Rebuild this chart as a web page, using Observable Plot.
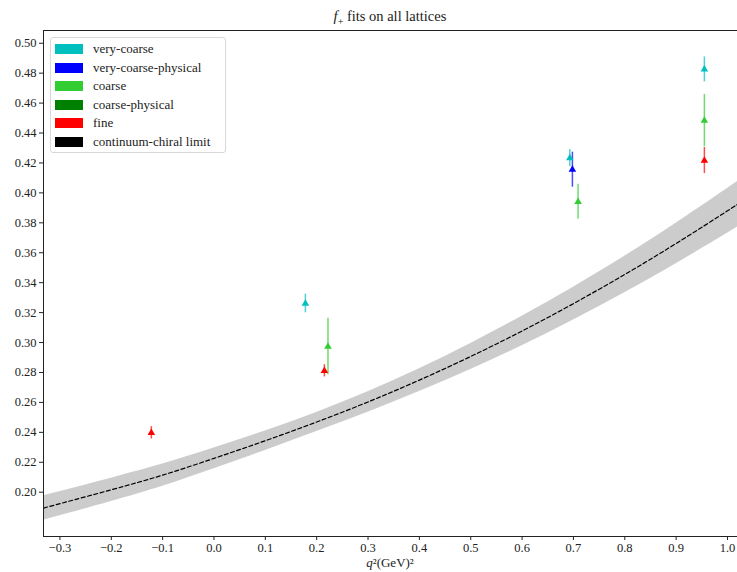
<!DOCTYPE html>
<html>
<head>
<meta charset="utf-8">
<script src="https://cdn.jsdelivr.net/npm/d3@7"></script>
<script src="https://cdn.jsdelivr.net/npm/@observablehq/plot@0.6"></script>
<style>
  html, body { margin: 0; padding: 0; background: #fff; }
  #wrap { position: relative; width: 737px; height: 572px; font-family: "Liberation Serif", "Times New Roman", Times, serif; }
  #title { position: absolute; left: 43px; width: 694px; top: 8px; text-align: center; font-size: 14.5px; color: #222; }
  #xlabel { position: absolute; left: 43px; width: 694px; top: 555px; text-align: center; font-size: 13px; color: #222; }
  #legend { position: absolute; left: 50px; top: 37px; width: 176px; height: 116px; border: 1px solid #d8d8d8; border-radius: 3px; background: rgba(255,255,255,0.85); box-sizing: border-box; }
  .row { position: absolute; left: 4px; height: 18px; display: flex; align-items: center; font-size: 13px; color: #222; }
  .sw { width: 28px; height: 10px; margin-right: 10px; }
  #chart { position: absolute; left: 0; top: 0; }
  #chart svg text { font-family: "Liberation Serif", "Times New Roman", Times, serif; }
</style>
</head>
<body>
<div id="wrap">
  <div id="chart"></div>
  <div id="title"><i>f</i><sub style="font-size:10px">+</sub> fits on all lattices</div>
  <div id="xlabel"><i>q</i>²(GeV)²</div>
  <div id="legend"></div>
</div>
<script>
// Series (legend order) and colours
const seriesNames = ["very-coarse", "very-coarse-physical", "coarse", "coarse-physical", "fine", "continuum-chiral limit"];
const seriesColors = ["#00bfbf", "#0000ff", "#32cd32", "#008000", "#ff0000", "#000000"];

// Lattice data points
const ptSeries = ["very-coarse", "very-coarse", "very-coarse", "very-coarse-physical", "coarse", "coarse", "coarse", "fine", "fine", "fine"];
const ptQ2 =     [0.178, 0.693, 0.955, 0.698, 0.222, 0.709, 0.955, -0.122, 0.215, 0.955];
const ptF =      [0.3261, 0.4232, 0.4825, 0.4155, 0.2973, 0.3940, 0.4483, 0.2397, 0.2811, 0.4216];
const ptErr =    [0.0062, 0.0057, 0.0083, 0.0117, 0.0189, 0.0117, 0.0175, 0.0041, 0.0041, 0.0087];

// Continuum-chiral limit curve
const curveQ2 =  [-0.332, -0.2, -0.1, 0.0, 0.1, 0.2, 0.3, 0.4, 0.5, 0.6, 0.7, 0.8, 0.9, 1.0, 1.02];
const curveF =   [0.1894, 0.2016, 0.2114, 0.2226, 0.2344, 0.2469, 0.2603, 0.2749, 0.2907, 0.3077, 0.3260, 0.3455, 0.3662, 0.3880, 0.3925];
const curveErr = [0.0082, 0.0078, 0.0074, 0.0069, 0.0065, 0.0064, 0.0068, 0.0076, 0.0087, 0.0099, 0.0110, 0.0122, 0.0135, 0.0149, 0.0152];

// Tick values
const xTicks = [-0.3, -0.2, -0.1, 0.0, 0.1, 0.2, 0.3, 0.4, 0.5, 0.6, 0.7, 0.8, 0.9, 1.0];
const yTicks = [0.20, 0.22, 0.24, 0.26, 0.28, 0.30, 0.32, 0.34, 0.36, 0.38, 0.40, 0.42, 0.44, 0.46, 0.48, 0.50];

const colorOf = Object.fromEntries(seriesNames.map((s, i) => [s, seriesColors[i]]));
const points = ptSeries.map((s, i) => ({s, x: ptQ2[i], y: ptF[i], lo: ptF[i] - ptErr[i], hi: ptF[i] + ptErr[i], c: colorOf[s]}));
const curve = curveQ2.map((x, i) => ({x, y: curveF[i], lo: curveF[i] - curveErr[i], hi: curveF[i] + curveErr[i]}));

const fmtX = d => d.toFixed(1).replace("-", "\u2212");
const fmtY = d => d.toFixed(2);

const plot = Plot.plot({
  width: 737,
  height: 572,
  marginLeft: 43,
  marginRight: 0,
  marginTop: 30,
  marginBottom: 36,
  style: {fontSize: "12.5px", color: "#222", background: "transparent"},
  x: {domain: [-0.332, 1.0195]},
  y: {domain: [0.1704, 0.5085]},
  marks: [
    Plot.areaY(curve, {x: "x", y1: "lo", y2: "hi", fill: "#cccccc", curve: "natural"}),
    Plot.line(curve, {x: "x", y: "y", stroke: "#000", strokeWidth: 1.2, strokeDasharray: "4,2.5", curve: "natural"}),
    Plot.ruleX(points, {x: "x", y1: "lo", y2: "hi", stroke: "c", strokeWidth: 1.5, strokeOpacity: 0.7}),
    Plot.dot(points, {x: "x", y: "y", symbol: "triangle", r: 2.8, fill: "c", stroke: "none"}),
    Plot.axisX({ticks: xTicks, tickFormat: fmtX, tickSize: 4, tickPadding: 3, label: null, stroke: "#222"}),
    Plot.axisY({ticks: yTicks, tickFormat: fmtY, tickSize: 4, tickPadding: 3, label: null, stroke: "#222"}),
    Plot.frame({stroke: "#222", strokeWidth: 1})
  ]
});
document.getElementById("chart").appendChild(plot);

// legend
const lg = document.getElementById("legend");
seriesNames.forEach((s, i) => {
  const r = document.createElement("div");
  r.className = "row";
  r.style.top = (2 + i * 18.6) + "px";
  r.innerHTML = `<span class="sw" style="background:${seriesColors[i]}"></span><span>${s}</span>`;
  lg.appendChild(r);
});
</script>
</body>
</html>
